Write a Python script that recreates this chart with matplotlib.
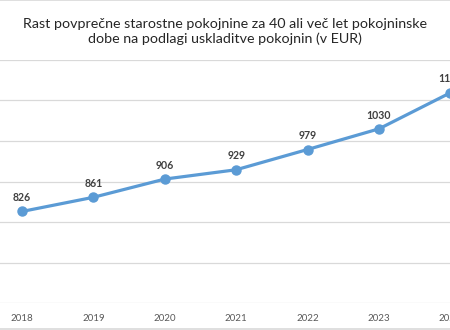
import matplotlib.pyplot as plt
from matplotlib.lines import Line2D

years = ["2018", "2019", "2020", "2021", "2022", "2023", "2024"]
values = [826, 861, 906, 929, 979, 1030, 1119]
labels = ["826", "861", "906", "929", "979", "1030", "1119"]

plt.rcParams['font.family'] = ['Lato', 'DejaVu Sans']

fig = plt.figure(figsize=(4.5, 3.3), dpi=100)
ax = fig.add_axes([-0.0304, 0.0818, 1.1104, 0.7364])

x = list(range(len(years)))
ax.plot(x, values, color='#5B9BD5', lw=2.3, marker='o', ms=6.5, zorder=3)
for xi, v, t in zip(x, values, labels):
    ax.annotate(t, (xi, v), xytext=(0, 6), textcoords='offset points',
                ha='center', va='bottom', fontsize=7.6, fontweight='bold',
                color='#404040')

ax.set_xlim(-0.5, 6.5)
ax.set_ylim(600, 1200)
ax.set_yticks(range(600, 1201, 100))
ax.set_xticks(x)
ax.set_xticklabels(years)
ax.grid(axis='y', color='#D9D9D9', lw=0.9)
ax.set_axisbelow(True)
for s in ax.spines.values():
    s.set_visible(False)
ax.tick_params(axis='x', length=0, pad=8, labelsize=7, labelcolor='#595959')
ax.tick_params(axis='y', length=0, labelleft=False)

fig.text(0.5, 0.945, "Rast povprečne starostne pokojnine za 40 ali več let pokojninske\n"
         "dobe na podlagi uskladitve pokojnin (v EUR)",
         ha='center', va='top', fontsize=10.3, color='#262626', linespacing=1.25)

fig.add_artist(Line2D([0, 1], [0.999, 0.999], color='#D9D9D9', lw=1.2))
fig.add_artist(Line2D([0, 1], [0.003, 0.003], color='#D9D9D9', lw=1.2))

fig.savefig("out.png", dpi=100)
